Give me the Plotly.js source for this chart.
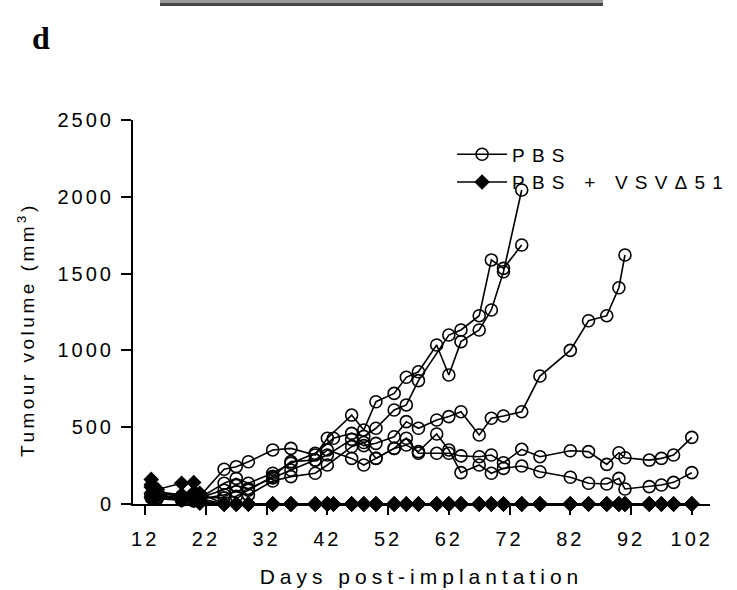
<!DOCTYPE html>
<html>
<head>
<meta charset="utf-8">
<script src="https://cdn.plot.ly/plotly-3.0.1.min.js"></script>
<style>
  html, body { margin: 0; padding: 0; background: #fff; }
  #chart { width: 737px; height: 590px; }
  .xtick text, .ytick text { letter-spacing: 3px; }
  text.xtitle { letter-spacing: 5px; }
  .annotation-text { letter-spacing: 3.5px; }
  text.legendtext { letter-spacing: 7.2px; }
</style>
</head>
<body>
<div id="chart"></div>
<script>
// ---- Data ----
const xTickVals = [12, 22, 32, 42, 52, 62, 72, 82, 92, 102];
const yTickVals = [0, 500, 1000, 1500, 2000, 2500];

// PBS group: individual mice (days, tumour volume mm^3)
const pbsA_days = [13, 14, 18, 20, 21, 25, 27, 29, 33, 36, 40, 43, 46, 48, 50, 53, 55, 57, 62, 64, 67, 69, 71, 74];
const pbsA_vol  = [50, 40, 30, 50, 40, 135, 167, 135, 200, 265, 330, 428, 460, 440, 493, 612, 645, 803, 1100, 1133, 1226, 1589, 1534, 1686];

const pbsB_days = [13, 14, 18, 20, 21, 25, 27, 29, 33, 36, 40, 42, 46, 48, 50, 53, 55, 57, 60, 62, 64, 67, 69, 71, 74];
const pbsB_vol  = [60, 50, 40, 60, 50, 226, 243, 275, 352, 362, 319, 428, 579, 482, 666, 720, 825, 861, 1035, 840, 1057, 1133, 1263, 1512, 2044];

const pbsC_days = [13, 14, 18, 20, 21, 25, 27, 29, 33, 36, 40, 42, 46, 48, 50, 53, 55, 57, 60, 62, 64, 67, 69, 71, 74, 77, 82, 85, 88, 90, 91];
const pbsC_vol  = [45, 60, 40, 30, 40, 90, 120, 100, 170, 221, 286, 319, 421, 380, 395, 438, 536, 493, 547, 569, 601, 449, 558, 573, 601, 833, 1000, 1193, 1226, 1408, 1621];

const pbsD_days = [13, 14, 18, 20, 21, 25, 27, 29, 33, 36, 40, 42, 46, 48, 50, 53, 55, 57, 60, 62, 64, 67, 69, 71, 74, 77, 82, 85, 88, 90, 91, 95, 97, 99, 102];
const pbsD_vol  = [40, 35, 25, 20, 30, 60, 80, 59, 150, 178, 200, 254, 373, 400, 297, 362, 428, 330, 330, 330, 313, 308, 319, 269, 356, 308, 347, 341, 258, 334, 301, 286, 297, 319, 434];

const pbsE_days = [13, 14, 18, 20, 21, 25, 27, 29, 33, 36, 40, 42, 46, 48, 50, 53, 55, 57, 60, 62, 64, 67, 69, 71, 74, 77, 82, 85, 88, 90, 91, 95, 97, 99, 102];
const pbsE_vol  = [55, 70, 50, 40, 45, 40, 50, 90, 180, 276, 286, 352, 297, 254, 297, 362, 384, 341, 456, 352, 204, 254, 200, 232, 247, 210, 174, 135, 130, 167, 98, 113, 124, 141, 204];

// PBS + VSVΔ51 group
const vsv_days = [13, 14, 18, 20, 21, 25, 27, 29, 33, 36, 40, 42, 43, 46, 48, 50, 53, 55, 57, 60, 62, 64, 67, 69, 71, 74, 77, 82, 85, 88, 90, 91, 95, 97, 99, 102];
const vsv1_vol = [160, 95, 135, 140, 70, 0, 0, 0, 0, 0, 0, 0, 0, 0, 0, 0, 0, 0, 0, 0, 0, 0, 0, 0, 0, 0, 0, 0, 0, 0, 0, 0, 0, 0, 0, 0];
const vsv2_vol = [110, 80, 60, 75, 35, 0, 0, 0, 0, 0, 0, 0, 0, 0, 0, 0, 0, 0, 0, 0, 0, 0, 0, 0, 0, 0, 0, 0, 0, 0, 0, 0, 0, 0, 0, 0];
const vsv3_vol = [70, 55, 35, 25, 15, 0, 0, 0, 0, 0, 0, 0, 0, 0, 0, 0, 0, 0, 0, 0, 0, 0, 0, 0, 0, 0, 0, 0, 0, 0, 0, 0, 0, 0, 0, 0];
const vsv4_vol = [45, 65, 25, 35, 5, 0, 0, 0, 0, 0, 0, 0, 0, 0, 0, 0, 0, 0, 0, 0, 0, 0, 0, 0, 0, 0, 0, 0, 0, 0, 0, 0, 0, 0, 0, 0];
const vsv5_vol = [125, 75, 50, 45, 20, 0, 0, 0, 0, 0, 0, 0, 0, 0, 0, 0, 0, 0, 0, 0, 0, 0, 0, 0, 0, 0, 0, 0, 0, 0, 0, 0, 0, 0, 0, 0];

const labelPBS = 'PBS';
const labelVSV = 'PBS + VSV\u039451';
const xTitle = 'Days post-implantation';
const yTitle = 'Tumour volume (mm<sup>3</sup>)';
const panelLabel = '<b>d</b>';

// ---- Traces ----
const pbsSets = [[pbsA_days, pbsA_vol], [pbsB_days, pbsB_vol], [pbsC_days, pbsC_vol], [pbsD_days, pbsD_vol], [pbsE_days, pbsE_vol]];
const vsvSets = [vsv1_vol, vsv2_vol, vsv3_vol, vsv4_vol, vsv5_vol];

const traces = [];
pbsSets.forEach((s, i) => {
  traces.push({
    x: s[0], y: s[1], type: 'scatter', mode: 'lines+markers',
    name: labelPBS, legendgroup: 'pbs', showlegend: i === 0,
    line: { color: '#000', width: 1.6 },
    marker: { symbol: 'circle-open', size: 12, color: '#000', line: { width: 1.6, color: '#000' } },
    cliponaxis: false
  });
});
vsvSets.forEach((v, i) => {
  traces.push({
    x: vsv_days, y: v, type: 'scatter', mode: 'lines+markers',
    name: labelVSV, legendgroup: 'vsv', showlegend: i === 0,
    line: { color: '#000', width: 1.6 },
    marker: { symbol: 'diamond', size: 12, color: '#000' },
    cliponaxis: false
  });
});

const font = 'Liberation Sans, Arial, sans-serif';
const layout = {
  width: 737, height: 590,
  margin: { l: 133, r: 27, t: 120, b: 86, autoexpand: false },
  paper_bgcolor: '#fff', plot_bgcolor: '#fff',
  showlegend: true,
  legend: {
    x: 0.553, y: 0.788, xanchor: 'left', yanchor: 'bottom',
    itemwidth: 50,
    font: { family: font, size: 19, color: '#000' },
    bgcolor: 'rgba(0,0,0,0)', borderwidth: 0, tracegroupgap: 0
  },
  xaxis: {
    range: [10, 105], tickvals: xTickVals, ticktext: xTickVals.map(String),
    showline: true, linecolor: '#000', linewidth: 2,
    ticks: 'outside', ticklen: 9, tickwidth: 2, tickcolor: '#000',
    ticklabelstandoff: 7,
    showgrid: false, zeroline: false, automargin: false,
    tickfont: { family: font, size: 20, color: '#000' },
    title: { text: xTitle, font: { family: font, size: 21, color: '#000' }, standoff: 20 }
  },
  yaxis: {
    range: [0, 2500], tickvals: yTickVals, ticktext: yTickVals.map(String),
    showline: true, linecolor: '#000', linewidth: 2,
    ticks: 'outside', ticklen: 10, tickwidth: 2, tickcolor: '#000',
    ticklabelstandoff: 3,
    showgrid: false, zeroline: false, automargin: false,
    tickfont: { family: font, size: 20, color: '#000' }
  },
  annotations: [
    { text: panelLabel, xref: 'paper', yref: 'paper', x: (42 - 133) / 577, y: (504 - 38) / 384,
      xanchor: 'center', yanchor: 'middle', showarrow: false,
      font: { family: 'Liberation Serif, Times New Roman, serif', size: 32, color: '#000' } },
    { text: yTitle, xref: 'paper', yref: 'paper', x: (26 - 133) / 577, y: (504 - 330) / 384,
      xanchor: 'center', yanchor: 'middle', textangle: -90, showarrow: false,
      font: { family: font, size: 19, color: '#000' } }
  ],
  shapes: [
    { type: 'rect', xref: 'paper', yref: 'paper', x0: (160 - 133) / 577, x1: (603 - 133) / 577,
      y0: (504 - 3) / 384, y1: (504 + 2) / 384, fillcolor: '#999', line: { width: 0 } },
    { type: 'rect', xref: 'paper', yref: 'paper', x0: (160 - 133) / 577, x1: (603 - 133) / 577,
      y0: (504 - 6) / 384, y1: (504 - 3) / 384, fillcolor: '#444', line: { width: 0 } }
  ]
};

Plotly.newPlot('chart', traces, layout, { displayModeBar: false, staticPlot: true });
</script>
</body>
</html>
